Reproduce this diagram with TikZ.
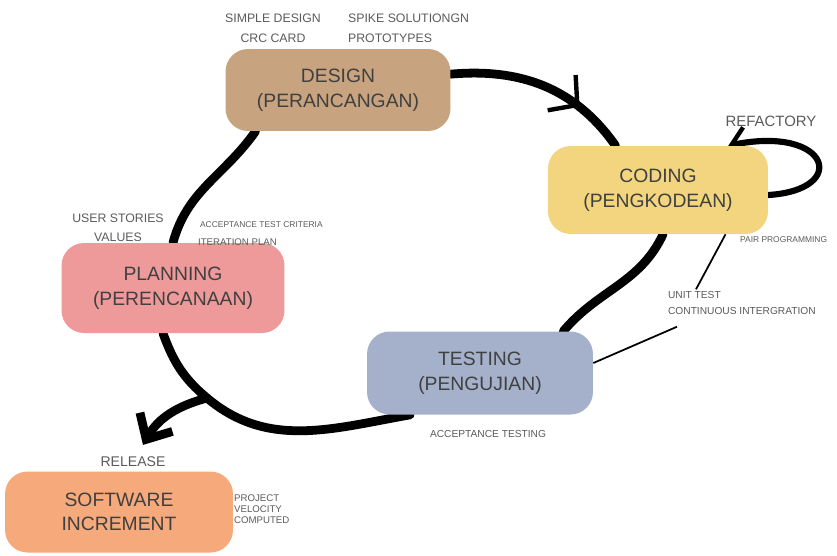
\documentclass[tikz,border=0pt]{standalone}
\usepackage{fontspec}
\setmainfont{Liberation Sans}
\usetikzlibrary{arrows.meta,decorations.markings,backgrounds}

\definecolor{designtan}{HTML}{C8A37F}
\definecolor{codingyellow}{HTML}{F3D57F}
\definecolor{planpink}{HTML}{EE9A9A}
\definecolor{testblue}{HTML}{A5B1CA}
\definecolor{softorange}{HTML}{F6A97A}
\definecolor{labelgray}{HTML}{404040}
\definecolor{notegray}{HTML}{5A5A5A}

\begin{document}
\begin{tikzpicture}[x=0.02cm,y=0.02cm,
    blob/.style={rounded corners=0.45cm, inner sep=0pt, align=center, text=labelgray,
      font=\fontsize{11}{14}\selectfont},
    smallnote/.style={text=notegray, inner sep=1pt, font=\fontsize{7}{8.5}\selectfont},
    tinynote/.style={text=notegray, inner sep=1pt, anchor=west, font=\fontsize{4.8}{6}\selectfont},
    loopline/.style={line width=5pt, line cap=round},
    leader/.style={line width=1pt}]
      \useasboundingbox (0,0) rectangle (837,-555);
      % the five phases
      \node[blob, fill=designtan, minimum width=4.5cm, minimum height=1.64cm] (design) at (338,-90) {DESIGN\\(PERANCANGAN)};
      \node[blob, fill=codingyellow, minimum width=4.4cm, minimum height=1.76cm] (coding) at (658,-190) {CODING\\(PENGKODEAN)};
      \node[blob, fill=planpink, minimum width=4.46cm, minimum height=1.8cm] (planning) at (173,-288) {PLANNING\\(PERENCANAAN)};
      \node[blob, fill=testblue, minimum width=4.52cm, minimum height=1.66cm] (testing) at (480,-373) {TESTING\\(PENGUJIAN)};
      \node[blob, fill=softorange, minimum width=4.56cm, minimum height=1.62cm] (software) at (119,-512) {SOFTWARE\\INCREMENT};
      % notes round the phases
      \node[smallnote] (simple) at (273,-18) {SIMPLE DESIGN};
      \node[smallnote] (crc) at (273,-38) {CRC CARD};
      \node[smallnote, anchor=west] (spike) at (346,-18) {SPIKE SOLUTIONGN};
      \node[smallnote, anchor=west] (proto) at (346,-38) {PROTOTYPES};
      \node[smallnote, font=\fontsize{8.5}{10}\selectfont] (refactory) at (771,-121) {REFACTORY};
      \node[tinynote] (pair) at (738,-240) {PAIR PROGRAMMING};
      \node[smallnote] (user) at (118,-218) {USER STORIES};
      \node[smallnote] (values) at (118,-237) {VALUES};
      \node[tinynote] (criteria) at (198,-225) {ACCEPTANCE TEST CRITERIA};
      \node[tinynote, font=\fontsize{5.5}{6.5}\selectfont] (iteration) at (196,-242) {ITERATION PLAN};
      \node[tinynote, font=\fontsize{5.8}{7}\selectfont] (unit) at (666,-295) {UNIT TEST};
      \node[tinynote, font=\fontsize{5.8}{7}\selectfont] (contint) at (666,-311) {CONTINUOUS INTERGRATION};
      \node[smallnote, font=\fontsize{5.8}{7}\selectfont] (acctest) at (488,-434) {ACCEPTANCE TESTING};
      \node[smallnote, font=\fontsize{8}{9.5}\selectfont] (release) at (133,-462) {RELEASE};
      \node[tinynote, align=left, font=\fontsize{5.5}{6.3}\selectfont] (velocity) at (232,-509) {PROJECT\\VELOCITY\\COMPUTED};
      \coordinate (fork) at (207,-398);
      % routine for the big cycle
      \begin{scope}[on background layer]
        \draw[loopline, postaction={decorate}, decoration={markings,
            mark=at position 0.72 with {\arrow{Straight Barb[length=0.4cm,width=0.9cm,line width=2.5pt]}}}]
          (design.8) to[out=5,in=125] ([xshift=-0.85cm]coding.north);
        \draw[loopline] ([xshift=0.1cm]coding.south) to[out=-115,in=50] ([xshift=-0.6cm]testing.north east);
        \draw[loopline] ([xshift=-1.4cm]testing.south) to[out=190,in=-40] (fork)
          to[out=140,in=-70] ([xshift=-0.2cm]planning.south);
        \draw[loopline] (planning.north) to[out=75,in=-125] ([xshift=-1.65cm]design.south);
        \draw[loopline, -{Straight Barb[length=0.4cm,width=0.75cm]}] (fork) to[out=195,in=60] ([xshift=0.2cm,yshift=0.2cm]release.north);
        \draw[line width=3.5pt, line cap=round, -{Straight Barb[length=0.3cm,width=0.6cm,line width=2.5pt]}]
          ([yshift=-0.1cm]coding.east) .. controls (850,-190) and (830,-125) .. ([xshift=-0.8cm]coding.north east);
      \end{scope}
      % leaders to the notes
      \draw[leader] ([xshift=1.35cm]coding.south) -- ([xshift=0.6cm]unit.north west);
      \draw[leader] ([yshift=0.2cm]testing.east) -- ([xshift=0.22cm,yshift=-0.2cm]contint.south west);
\end{tikzpicture}
\end{document}
